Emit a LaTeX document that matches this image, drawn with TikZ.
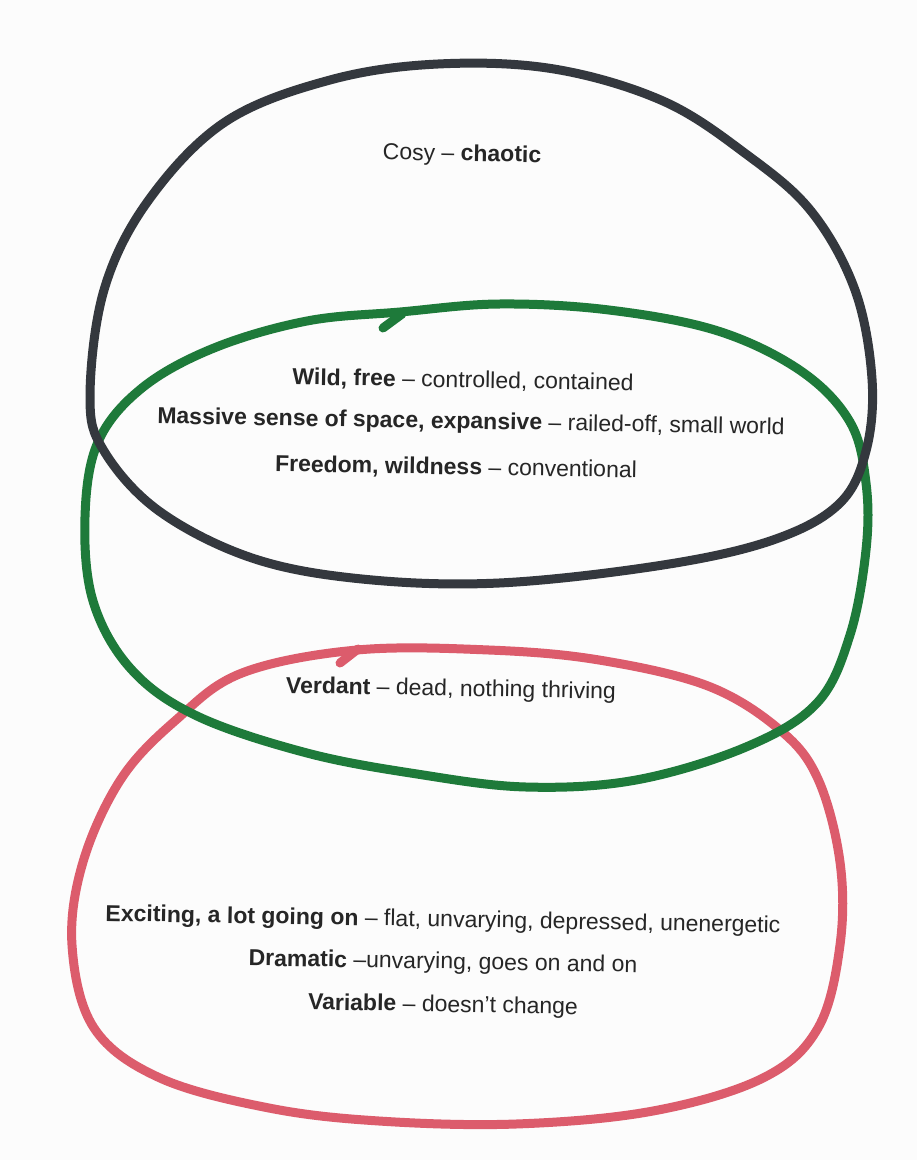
\documentclass[tikz,border=0pt]{standalone}
\usepackage{fontspec}
\setmainfont{Liberation Sans}
\definecolor{inkblack}{RGB}{52,56,62}
\definecolor{inkgreen}{RGB}{30,122,58}
\definecolor{inkred}{RGB}{220,92,108}
\definecolor{paper}{RGB}{252,252,252}
\tikzset{
  loopline/.style={line width=9pt, line cap=round, line join=round},
  lbl/.style={font=\fontsize{23}{28}\selectfont, text=black!85, inner sep=0pt, rotate=-1}
}
\begin{document}
\begin{tikzpicture}[x=1pt,y=-1pt]
\fill[paper] (0,0) rectangle (917,1160);
\useasboundingbox (0,0) rectangle (917,1160);
% red loop
\draw[loopline, inkred] plot[smooth cycle, tension=0.6] coordinates {
 (357,650) (489,650) (599,660) (708,686) (780,730) (818,779) (840,862) (840,945)
 (818,1028) (763,1078) (653,1111) (516,1124) (379,1121) (269,1108) (160,1078)
 (94,1028) (72,945) (83,862) (121,779) (176,720) (242,673)};
\draw[loopline, inkred] (340,663) -- (358,649);
% green loop
\draw[loopline, inkgreen] plot[smooth cycle, tension=0.6] coordinates {
 (400,312) (499,304) (609,310) (718,331) (801,371) (850,422) (866,483) (866,550)
 (850,635) (817,703) (746,747) (636,780) (526,787) (417,774) (307,753) (197,716)
 (131,669) (93,601) (85,517) (98,442) (142,388) (214,348) (307,321)};
\draw[loopline, inkgreen] (383,328) -- (402,314);
% black loop
\draw[loopline, inkblack] plot[smooth cycle, tension=0.6] coordinates {
 (438,64) (554,69) (663,101) (746,154) (811,211) (855,290) (872,379) (866,451)
 (839,504) (773,540) (663,565) (499,583) (362,579) (252,558) (159,511) (104,451)
 (90,397) (104,290) (148,201) (225,122) (330,80)};
% texts
\node[lbl] (t1) at (462,155) {Cosy -- \textbf{chaotic}};
\node[lbl] (t2) at (463,381) {\textbf{Wild, free} -- controlled, contained};
\node[lbl] (t3) at (471,423) {\textbf{Massive sense of space, expansive} -- railed-off, small world};
\node[lbl] (t4) at (456,468) {\textbf{Freedom, wildness} -- conventional};
\node[lbl] (t5) at (451,690) {\textbf{Verdant} -- dead, nothing thriving};
\node[lbl] (t6) at (443,921) {\textbf{Exciting, a lot going on} -- flat, unvarying, depressed, unenergetic};
\node[lbl] (t7) at (443,963) {\textbf{Dramatic} --unvarying, goes on and on};
\node[lbl] (t8) at (443,1006) {\textbf{Variable} -- doesn't change};
\end{tikzpicture}
\end{document}
